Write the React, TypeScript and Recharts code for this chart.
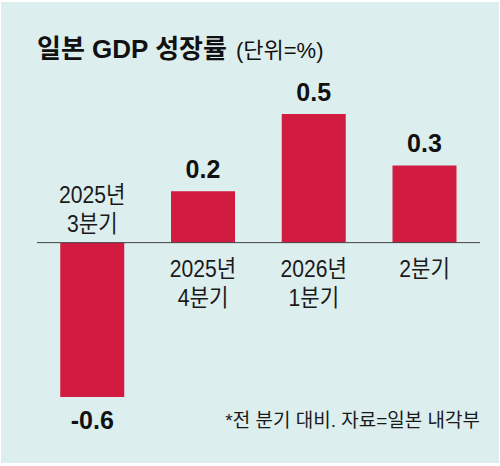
import React from 'react';
import { BarChart, Bar, XAxis, YAxis, ReferenceLine, LabelList } from 'recharts';

const quarters = ['2025년\n3분기', '2025년\n4분기', '2026년\n1분기', '2분기'];
const growth = [-0.6, 0.2, 0.5, 0.3];

const data = quarters.map((q, i) => ({ name: q, value: growth[i] }));

const FONT = '"Liberation Sans", Arial, "Noto Sans CJK KR", sans-serif';
const BAR_COLOR = '#d11b40';
const BG = '#dcefee';

function ValueLabel(props: any) {
  const { x, y, width, height, value } = props;
  const top = Math.min(y, y + height);
  const bottom = Math.max(y, y + height);
  const cx = x + width / 2;
  const ty = value < 0 ? bottom + 32 : top - 13;
  return (
    <text x={cx} y={ty} textAnchor="middle" fontFamily={FONT} fontWeight="bold" fontSize={25} fill="#111">
      {value}
    </text>
  );
}

function CategoryLabel(props: any) {
  const { x, y, width, height, index } = props;
  const top = Math.min(y, y + height);
  const bottom = Math.max(y, y + height);
  const cx = x + width / 2;
  const negative = growth[index] < 0;
  const base = negative ? top : bottom;
  const lines = String(quarters[index]).split('\n');
  const step = 29;
  const firstY = negative ? base - 11 - step * (lines.length - 1) : base + 34;
  return (
    <g transform={`translate(${cx},0) scale(0.88,1)`}>
      {lines.map((ln, i) => (
        <text key={i} x={0} y={firstY + i * step} textAnchor="middle" fontFamily={FONT} fontSize={24} fill="#1a1a1a">
          {ln}
        </text>
      ))}
    </g>
  );
}

export default function App() {
  return (
    <div style={{ position: 'fixed', left: 0, top: 0, width: 500, height: 466, background: '#fff' }}>
      <div style={{ position: 'absolute', left: 1, top: 2, width: 498, height: 461, background: BG }} />
      <div
        style={{
          position: 'absolute',
          left: 37,
          top: 34,
          fontFamily: FONT,
          color: '#111',
          whiteSpace: 'nowrap',
          lineHeight: '30px',
        }}
      >
        <span style={{ fontSize: 26, fontWeight: 'bold' }}>일본 GDP 성장률</span>
        <span style={{ fontSize: 22, marginLeft: 9 }}>(단위=%)</span>
      </div>
      <div style={{ position: 'absolute', left: 0, top: 0 }}>
        <BarChart
          width={500}
          height={466}
          data={data}
          margin={{ top: 114, right: 20, bottom: 69, left: 37 }}
          barCategoryGap="21%"
        >
          <XAxis dataKey="name" hide />
          <YAxis hide domain={[-0.6, 0.5]} />
          <Bar dataKey="value" fill={BAR_COLOR} isAnimationActive={false}>
            <LabelList dataKey="value" content={ValueLabel} />
            <LabelList dataKey="name" content={CategoryLabel} />
          </Bar>
          <ReferenceLine y={0} stroke="#444" strokeWidth={1} />
        </BarChart>
      </div>
      <div
        style={{
          position: 'absolute',
          right: 20,
          top: 408,
          fontFamily: FONT,
          fontSize: 19,
          color: '#1a1a1a',
          whiteSpace: 'nowrap',
          lineHeight: '26px',
        }}
      >
        *전 분기 대비. 자료=일본 내각부
      </div>
    </div>
  );
}
